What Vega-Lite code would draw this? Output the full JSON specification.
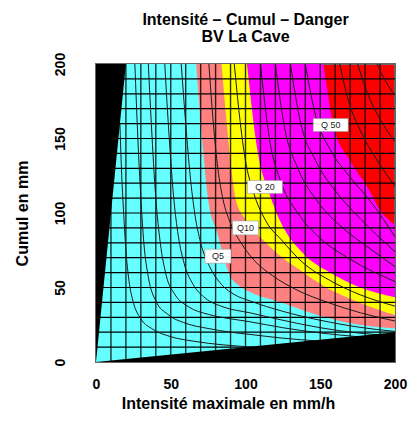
{
  "$schema": "https://vega.github.io/schema/vega-lite/v6.json",
  "width": 299,
  "height": 298,
  "autosize": {"type": "none"},
  "padding": {"left": 96, "top": 64, "right": 15, "bottom": 59},
  "background": "white",
  "title": {
    "text": ["Intensité – Cumul – Danger", "BV La Cave"],
    "font": "Liberation Sans", "fontSize": 16, "fontWeight": "bold", "color": "black",
    "lineHeight": 17, "anchor": "middle", "frame": "group", "offset": 7
  },
  "config": {
    "view": {"fill": "#FF0000", "stroke": "#666666", "strokeWidth": 2},
    "axis": {
      "grid": false, "ticks": false, "domain": false, "tickCount": 4, "labelFlush": false,
      "labelFont": "Liberation Sans", "labelFontWeight": "bold", "labelFontSize": 14, "labelColor": "black",
      "titleFont": "Liberation Sans", "titleFontWeight": "bold", "titleFontSize": 16, "titleColor": "black"
    },
    "axisX": {"labelPadding": 15, "titlePadding": 4, "titleX": 132},
    "axisY": {"labelAngle": -90, "labelPadding": 29, "titlePadding": 23}
  },
  "datasets": {
    "zones": [
      {"z": "Q50", "x": 0, "y": 1000}, {"z": "Q50", "x": 146, "y": 235}, {"z": "Q50", "x": 152, "y": 200},
      {"z": "Q50", "x": 159, "y": 158}, {"z": "Q50", "x": 170, "y": 135}, {"z": "Q50", "x": 183, "y": 115},
      {"z": "Q50", "x": 190, "y": 102}, {"z": "Q50", "x": 200, "y": 92},
      {"z": "Q20", "x": 0, "y": 1000}, {"z": "Q20", "x": 97, "y": 240}, {"z": "Q20", "x": 101, "y": 200},
      {"z": "Q20", "x": 108, "y": 142}, {"z": "Q20", "x": 116, "y": 113}, {"z": "Q20", "x": 123, "y": 95},
      {"z": "Q20", "x": 138.5, "y": 73}, {"z": "Q20", "x": 156.5, "y": 60}, {"z": "Q20", "x": 176.6, "y": 50},
      {"z": "Q20", "x": 200, "y": 43.5},
      {"z": "Q10", "x": 0, "y": 1000}, {"z": "Q10", "x": 81, "y": 240}, {"z": "Q10", "x": 84, "y": 200},
      {"z": "Q10", "x": 87.5, "y": 160}, {"z": "Q10", "x": 90.5, "y": 130}, {"z": "Q10", "x": 93.5, "y": 109},
      {"z": "Q10", "x": 99, "y": 97}, {"z": "Q10", "x": 105, "y": 89}, {"z": "Q10", "x": 111.7, "y": 82},
      {"z": "Q10", "x": 121, "y": 73}, {"z": "Q10", "x": 136, "y": 62}, {"z": "Q10", "x": 154, "y": 50},
      {"z": "Q10", "x": 176, "y": 40}, {"z": "Q10", "x": 200, "y": 31.5},
      {"z": "Q5", "x": 0, "y": 1000}, {"z": "Q5", "x": 64, "y": 240}, {"z": "Q5", "x": 67, "y": 200},
      {"z": "Q5", "x": 71, "y": 150}, {"z": "Q5", "x": 75, "y": 109}, {"z": "Q5", "x": 81, "y": 87},
      {"z": "Q5", "x": 89.6, "y": 58}, {"z": "Q5", "x": 96, "y": 51}, {"z": "Q5", "x": 103, "y": 47},
      {"z": "Q5", "x": 125, "y": 39.6}, {"z": "Q5", "x": 148, "y": 31.5}, {"z": "Q5", "x": 170, "y": 26},
      {"z": "Q5", "x": 200, "y": 22.5}
    ],
    "black": [
      {"side": "left", "x": 0, "y": 0}, {"side": "left", "x": 20, "y": 200},
      {"side": "bottom", "x": 0, "y": 0}, {"side": "bottom", "x": 200, "y": 20}
    ],
    "grid": [
      {"v": 10}, {"v": 20}, {"v": 30}, {"v": 40}, {"v": 50}, {"v": 60}, {"v": 70}, {"v": 80}, {"v": 90},
      {"v": 100}, {"v": 110}, {"v": 120}, {"v": 130}, {"v": 140}, {"v": 150}, {"v": 160}, {"v": 170},
      {"v": 180}, {"v": 190}
    ],
    "curves": [
      {"c": "C1", "x": 16, "y": 160}, {"c": "C1", "x": 17, "y": 130}, {"c": "C1", "x": 18.5, "y": 100},
      {"c": "C1", "x": 20, "y": 75}, {"c": "C1", "x": 22, "y": 55}, {"c": "C1", "x": 25, "y": 40},
      {"c": "C1", "x": 30, "y": 29}, {"c": "C1", "x": 38, "y": 22}, {"c": "C1", "x": 50, "y": 17},
      {"c": "C1", "x": 65, "y": 14}, {"c": "C1", "x": 85, "y": 11.5}, {"c": "C1", "x": 105, "y": 10},
      {"c": "C2", "x": 26, "y": 200}, {"c": "C2", "x": 28, "y": 150}, {"c": "C2", "x": 30, "y": 110},
      {"c": "C2", "x": 32, "y": 80}, {"c": "C2", "x": 35, "y": 57}, {"c": "C2", "x": 40, "y": 41},
      {"c": "C2", "x": 48, "y": 32}, {"c": "C2", "x": 60, "y": 26}, {"c": "C2", "x": 75, "y": 22.5},
      {"c": "C2", "x": 90, "y": 20}, {"c": "C2", "x": 103, "y": 18.5}, {"c": "C2", "x": 125, "y": 16},
      {"c": "C2", "x": 150, "y": 14},
      {"c": "C3", "x": 35, "y": 200}, {"c": "C3", "x": 37, "y": 160}, {"c": "C3", "x": 40, "y": 110},
      {"c": "C3", "x": 43, "y": 80}, {"c": "C3", "x": 47, "y": 58}, {"c": "C3", "x": 53, "y": 45},
      {"c": "C3", "x": 62, "y": 37}, {"c": "C3", "x": 75, "y": 32}, {"c": "C3", "x": 90, "y": 29},
      {"c": "C3", "x": 103, "y": 27}, {"c": "C3", "x": 125, "y": 23}, {"c": "C3", "x": 150, "y": 19.5},
      {"c": "C3", "x": 175, "y": 17},
      {"c": "C4", "x": 46, "y": 200}, {"c": "C4", "x": 49, "y": 150}, {"c": "C4", "x": 52, "y": 110},
      {"c": "C4", "x": 55, "y": 85}, {"c": "C4", "x": 59, "y": 66}, {"c": "C4", "x": 65, "y": 52},
      {"c": "C4", "x": 73, "y": 43}, {"c": "C4", "x": 85, "y": 37}, {"c": "C4", "x": 103, "y": 33},
      {"c": "C4", "x": 125, "y": 28}, {"c": "C4", "x": 150, "y": 23}, {"c": "C4", "x": 175, "y": 19.5},
      {"c": "C4", "x": 200, "y": 17.5},
      {"c": "C5", "x": 57, "y": 200}, {"c": "C5", "x": 60, "y": 160}, {"c": "C5", "x": 63, "y": 125},
      {"c": "C5", "x": 66, "y": 100}, {"c": "C5", "x": 70, "y": 80}, {"c": "C5", "x": 76, "y": 64},
      {"c": "C5", "x": 84, "y": 52}, {"c": "C5", "x": 93, "y": 45}, {"c": "C5", "x": 103, "y": 41},
      {"c": "C5", "x": 125, "y": 34}, {"c": "C5", "x": 150, "y": 28}, {"c": "C5", "x": 175, "y": 23.5},
      {"c": "C5", "x": 200, "y": 20.5},
      {"c": "S1", "x": 75.5, "y": 200}, {"c": "S1", "x": 78.5, "y": 160}, {"c": "S1", "x": 81.5, "y": 130},
      {"c": "S1", "x": 85, "y": 109}, {"c": "S1", "x": 90, "y": 93}, {"c": "S1", "x": 97, "y": 80},
      {"c": "S1", "x": 106, "y": 68}, {"c": "S1", "x": 118, "y": 58}, {"c": "S1", "x": 135, "y": 48},
      {"c": "S1", "x": 155, "y": 40}, {"c": "S1", "x": 177, "y": 33}, {"c": "S1", "x": 200, "y": 27.5},
      {"c": "Y1", "x": 92.5, "y": 200}, {"c": "Y1", "x": 96, "y": 165}, {"c": "Y1", "x": 100, "y": 135},
      {"c": "Y1", "x": 105, "y": 115}, {"c": "Y1", "x": 114, "y": 94}, {"c": "Y1", "x": 124, "y": 82},
      {"c": "Y1", "x": 138, "y": 67}, {"c": "Y1", "x": 156, "y": 55}, {"c": "Y1", "x": 177, "y": 45},
      {"c": "Y1", "x": 200, "y": 37.5},
      {"c": "M1", "x": 110, "y": 200}, {"c": "M1", "x": 116, "y": 150}, {"c": "M1", "x": 124, "y": 120},
      {"c": "M1", "x": 135, "y": 100}, {"c": "M1", "x": 150, "y": 83}, {"c": "M1", "x": 170, "y": 69},
      {"c": "M1", "x": 200, "y": 54},
      {"c": "M2", "x": 120, "y": 200}, {"c": "M2", "x": 126, "y": 158}, {"c": "M2", "x": 135, "y": 130},
      {"c": "M2", "x": 148, "y": 108}, {"c": "M2", "x": 165, "y": 90}, {"c": "M2", "x": 182, "y": 77},
      {"c": "M2", "x": 200, "y": 64},
      {"c": "M3", "x": 130, "y": 200}, {"c": "M3", "x": 137, "y": 160}, {"c": "M3", "x": 147, "y": 135},
      {"c": "M3", "x": 160, "y": 115}, {"c": "M3", "x": 176, "y": 97}, {"c": "M3", "x": 200, "y": 74},
      {"c": "M4", "x": 140, "y": 200}, {"c": "M4", "x": 147, "y": 165}, {"c": "M4", "x": 157, "y": 142},
      {"c": "M4", "x": 170, "y": 124}, {"c": "M4", "x": 185, "y": 106}, {"c": "M4", "x": 200, "y": 84},
      {"c": "R1", "x": 163, "y": 200}, {"c": "R1", "x": 169, "y": 175}, {"c": "R1", "x": 177, "y": 155},
      {"c": "R1", "x": 187, "y": 137}, {"c": "R1", "x": 200, "y": 118},
      {"c": "R2", "x": 175, "y": 200}, {"c": "R2", "x": 181, "y": 182}, {"c": "R2", "x": 190, "y": 163},
      {"c": "R2", "x": 200, "y": 148},
      {"c": "R3", "x": 188, "y": 200}, {"c": "R3", "x": 194, "y": 188}, {"c": "R3", "x": 200, "y": 179}
    ],
    "labels": [
      {"label": "Q5", "x": 81.6, "y": 71},
      {"label": "Q10", "x": 100, "y": 90},
      {"label": "Q 20", "x": 113, "y": 117.5},
      {"label": "Q 50", "x": 157, "y": 159}
    ]
  },
  "layer": [
    {
      "data": {"name": "zones"},
      "transform": [{"filter": "datum.z === 'Q50'"}],
      "mark": {"type": "area", "color": "#FF00FF", "interpolate": "monotone", "clip": true},
      "encoding": {
        "x": {"field": "x", "type": "quantitative", "scale": {"domain": [0, 200], "nice": false, "zero": false}, "title": "Intensité maximale en mm/h"},
        "y": {"field": "y", "type": "quantitative", "scale": {"domain": [0, 200], "nice": false, "zero": false}, "title": "Cumul en mm"},
        "y2": {"datum": 0}
      }
    },
    {
      "data": {"name": "zones"},
      "transform": [{"filter": "datum.z === 'Q20'"}],
      "mark": {"type": "area", "color": "#FFFF00", "interpolate": "monotone", "clip": true},
      "encoding": {
        "x": {"field": "x", "type": "quantitative", "title": "Intensité maximale en mm/h"},
        "y": {"field": "y", "type": "quantitative", "title": "Cumul en mm"},
        "y2": {"datum": 0}
      }
    },
    {
      "data": {"name": "zones"},
      "transform": [{"filter": "datum.z === 'Q10'"}],
      "mark": {"type": "area", "color": "#FF8080", "interpolate": "monotone", "clip": true},
      "encoding": {
        "x": {"field": "x", "type": "quantitative", "title": "Intensité maximale en mm/h"},
        "y": {"field": "y", "type": "quantitative", "title": "Cumul en mm"},
        "y2": {"datum": 0}
      }
    },
    {
      "data": {"name": "zones"},
      "transform": [{"filter": "datum.z === 'Q5'"}],
      "mark": {"type": "area", "color": "#66FFFF", "interpolate": "monotone", "clip": true},
      "encoding": {
        "x": {"field": "x", "type": "quantitative", "title": "Intensité maximale en mm/h"},
        "y": {"field": "y", "type": "quantitative", "title": "Cumul en mm"},
        "y2": {"datum": 0}
      }
    },
    {
      "data": {"name": "grid"},
      "mark": {"type": "rule", "color": "black", "strokeWidth": 1.4, "opacity": 0.8},
      "encoding": {"x": {"field": "v", "type": "quantitative", "title": "Intensité maximale en mm/h"}}
    },
    {
      "data": {"name": "grid"},
      "mark": {"type": "rule", "color": "black", "strokeWidth": 1.2},
      "encoding": {"y": {"field": "v", "type": "quantitative", "title": "Cumul en mm"}}
    },
    {
      "data": {"name": "curves"},
      "mark": {"type": "line", "color": "#1a1a1a", "strokeWidth": 1, "interpolate": "monotone", "clip": true},
      "encoding": {
        "x": {"field": "x", "type": "quantitative", "title": "Intensité maximale en mm/h"},
        "y": {"field": "y", "type": "quantitative", "title": "Cumul en mm"},
        "detail": {"field": "c"}
      }
    },
    {
      "data": {"name": "black"},
      "transform": [{"filter": "datum.side === 'left'"}],
      "mark": {"type": "area", "color": "black", "clip": true},
      "encoding": {
        "x": {"field": "x", "type": "quantitative", "title": "Intensité maximale en mm/h"},
        "y": {"field": "y", "type": "quantitative", "title": "Cumul en mm"},
        "y2": {"datum": 200}
      }
    },
    {
      "data": {"name": "black"},
      "transform": [{"filter": "datum.side === 'bottom'"}],
      "mark": {"type": "area", "color": "black", "clip": true},
      "encoding": {
        "x": {"field": "x", "type": "quantitative", "title": "Intensité maximale en mm/h"},
        "y": {"field": "y", "type": "quantitative", "title": "Cumul en mm"},
        "y2": {"datum": 0}
      }
    },
    {
      "data": {"name": "labels"},
      "mark": {"type": "point", "filled": true, "fill": "white", "stroke": "#999999", "strokeWidth": 0.6, "size": 4, "opacity": 1},
      "encoding": {
        "x": {"field": "x", "type": "quantitative", "title": "Intensité maximale en mm/h"},
        "y": {"field": "y", "type": "quantitative", "title": "Cumul en mm"},
        "shape": {"condition": {"test": "length(datum.label) > 3", "value": "M-17.5,-6.5H17.5V6.5H-17.5Z"}, "value": "M-13,-7H13V7H-13Z"}
      }
    },
    {
      "data": {"name": "labels"},
      "mark": {"type": "text", "font": "Liberation Sans", "fontSize": 9, "color": "#222222", "align": "center", "baseline": "middle"},
      "encoding": {
        "x": {"field": "x", "type": "quantitative", "title": "Intensité maximale en mm/h"},
        "y": {"field": "y", "type": "quantitative", "title": "Cumul en mm"},
        "text": {"field": "label"}
      }
    }
  ]
}
